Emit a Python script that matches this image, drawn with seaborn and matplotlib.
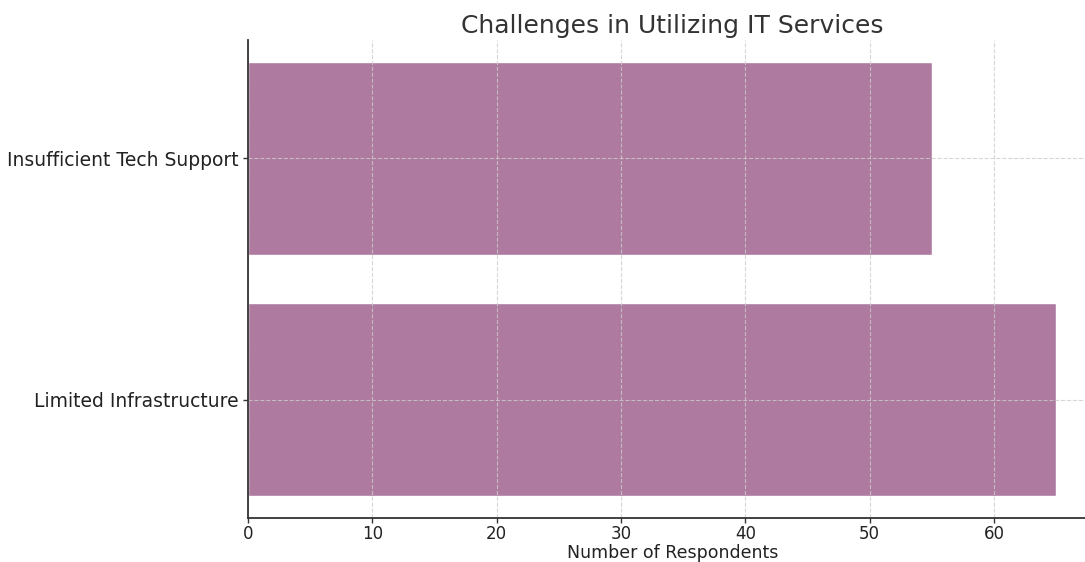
import pandas as pd
import matplotlib.pyplot as plt
import seaborn as sns

# data
categories = ["Insufficient Tech Support", "Limited Infrastructure"]
respondents = [55, 65]

df = pd.DataFrame({"Challenge": categories, "Respondents": respondents})

sns.set_style("white")
plt.rcParams["font.family"] = ["DejaVu Sans"]

fig = plt.figure(figsize=(10.85, 5.62), dpi=100)
ax = fig.add_axes([0.2286, 0.0783, 0.782, 0.8505])

sns.barplot(data=df, x="Respondents", y="Challenge", orient="h",
            color="#AE7A9F", saturation=1, width=0.8, ax=ax)

ax.set_ylim(1.49, -0.49)
ax.set_xlim(0, 68.25)

ax.set_axisbelow(False)
ax.grid(True, linestyle="--", color="#cccccc", linewidth=0.8, alpha=0.8)

for side in ["top", "right"]:
    ax.spines[side].set_visible(False)
for side in ["left", "bottom"]:
    ax.spines[side].set_color("#333333")
    ax.spines[side].set_linewidth(1.3)
    ax.spines[side].set_zorder(5)

ax.tick_params(axis="both", length=3.5, width=1, color="#333333",
               labelcolor="#222222", left=True, bottom=True)
ax.tick_params(axis="y", labelsize=13.5, pad=3)
ax.tick_params(axis="x", labelsize=12, pad=1.5)

ax.set_title("Challenges in Utilizing IT Services", fontsize=18, color="#333333", pad=5)
ax.set_xlabel("Number of Respondents", fontsize=12.5, color="#222222")
ax.xaxis.label.set_va("bottom")
# keep the axis title just inside the bottom edge
ax.xaxis.set_label_coords(0.5, -0.5 / 478 * 0 - 44 / 478)
ax.set_ylabel("")

fig.savefig("out.png", dpi=100)
